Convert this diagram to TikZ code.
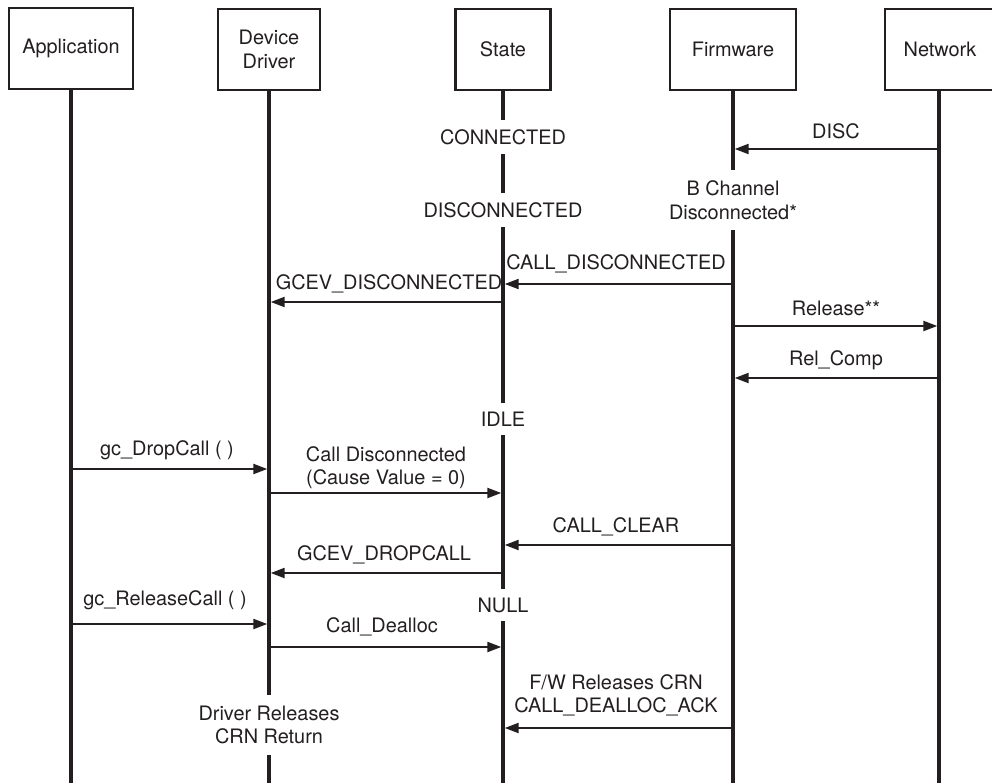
\documentclass[tikz,border=0pt]{standalone}
\usepackage{fontspec}
\setmainfont{TeX Gyre Heros}
\usetikzlibrary{arrows.meta}
\definecolor{ink}{HTML}{231F20}
\begin{document}
\begin{tikzpicture}[x=1pt,y=-1pt,
  font=\fontsize{19.9}{23.5}\selectfont, text=ink,
  head/.style={draw=ink,line width=2.7pt,minimum height=81pt,inner sep=0pt,align=center,fill=white},
  life/.style={draw=ink,line width=3.4pt},
  msg/.style={draw=ink,line width=2.2pt,-{Triangle[length=14pt,width=10pt]},shorten >=1.7pt},
  lbl/.style={inner sep=0pt,align=center},
  st/.style={fill=white,inner xsep=2pt,inner ysep=9pt,align=center}]
\useasboundingbox (0,0) rectangle (992,783);
% headers
\node[head,minimum width=124pt] (app) at (71,48.5) {Application};
\node[head,minimum width=102pt] (drv) at (269,49.5) {Device\\Driver};
\node[head,minimum width=95pt] (sta) at (503,49.5) {State};
\node[head,minimum width=126pt] (fw) at (733,49.5) {Firmware};
\node[head,minimum width=110pt] (net) at (940,49.5) {Network};
% lifeline ends
\coordinate (appE) at (71,795);
\coordinate (drvE) at (269,795);
\coordinate (staE) at (503,795);
\coordinate (fwE) at (733,795);
\coordinate (netE) at (939,795);
\draw[life] (app) -- (appE);
\draw[life] (drv) -- (drvE);
\draw[life] (sta) -- (staE);
\draw[life] (fw) -- (fwE);
\draw[life] (net.south -| netE) -- (netE);
% state labels (gaps)
\node[st] (sConn) at (503,137) {CONNECTED};
\node[st] (sDisc) at (503,210) {DISCONNECTED};
\node[st] (sIdle) at (503,419) {IDLE};
\node[st] (sNull) at (503,605) {NULL};
\node[st,inner ysep=11pt] (bch) at (733,200) {B Channel\\Disconnected*};
\node[st,inner ysep=11pt] (drel) at (269,725) {Driver Releases\\CRN Return};
% message rows
\coordinate (m1) at (0,149);
\coordinate (m2) at (0,284);
\coordinate (m3) at (0,302);
\coordinate (m4) at (0,326);
\coordinate (m5) at (0,378);
\coordinate (m6) at (0,469);
\coordinate (m7) at (0,493);
\coordinate (m8) at (0,545);
\coordinate (m9) at (0,573);
\coordinate (m10) at (0,624);
\coordinate (m11) at (0,647);
\coordinate (m12) at (0,728);
\draw[msg] (netE |- m1) -- (fwE |- m1);
\draw[msg] (fwE |- m2) -- (staE |- m2);
\draw[msg] (staE |- m3) -- (drvE |- m3);
\draw[msg] (fwE |- m4) -- (netE |- m4);
\draw[msg] (netE |- m5) -- (fwE |- m5);
\draw[msg] (appE |- m6) -- (drvE |- m6);
\draw[msg] (drvE |- m7) -- (staE |- m7);
\draw[msg] (fwE |- m8) -- (staE |- m8);
\draw[msg] (staE |- m9) -- (drvE |- m9);
\draw[msg] (appE |- m10) -- (drvE |- m10);
\draw[msg] (drvE |- m11) -- (staE |- m11);
\draw[msg] (fwE |- m12) -- (staE |- m12);
% message labels
\node[lbl] (l1) at (836,131) {DISC};
\node[lbl] (l2) at (616,264) {CALL\_DISCONNECTED};
\node[lbl] (l3) at (389,284) {GCEV\_DISCONNECTED};
\node[lbl] (l4) at (836,308) {Release**};
\node[lbl] (l5) at (836,360) {Rel\_Comp};
\node[lbl] (l6) at (167,450) {gc\_DropCall ( )};
\node[lbl] (l7) at (386,467.5) {Call Disconnected\\(Cause Value = 0)};
\node[lbl] (l8) at (616,527) {CALL\_CLEAR};
\node[lbl] (l9) at (384,555) {GCEV\_DROPCALL};
\node[lbl] (l10) at (165,600) {gc\_ReleaseCall ( )};
\node[lbl] (l11) at (382,627) {Call\_Dealloc};
\node[lbl] (l12) at (616,695.5) {F/W Releases CRN\\CALL\_DEALLOC\_ACK};
\end{tikzpicture}
\end{document}
